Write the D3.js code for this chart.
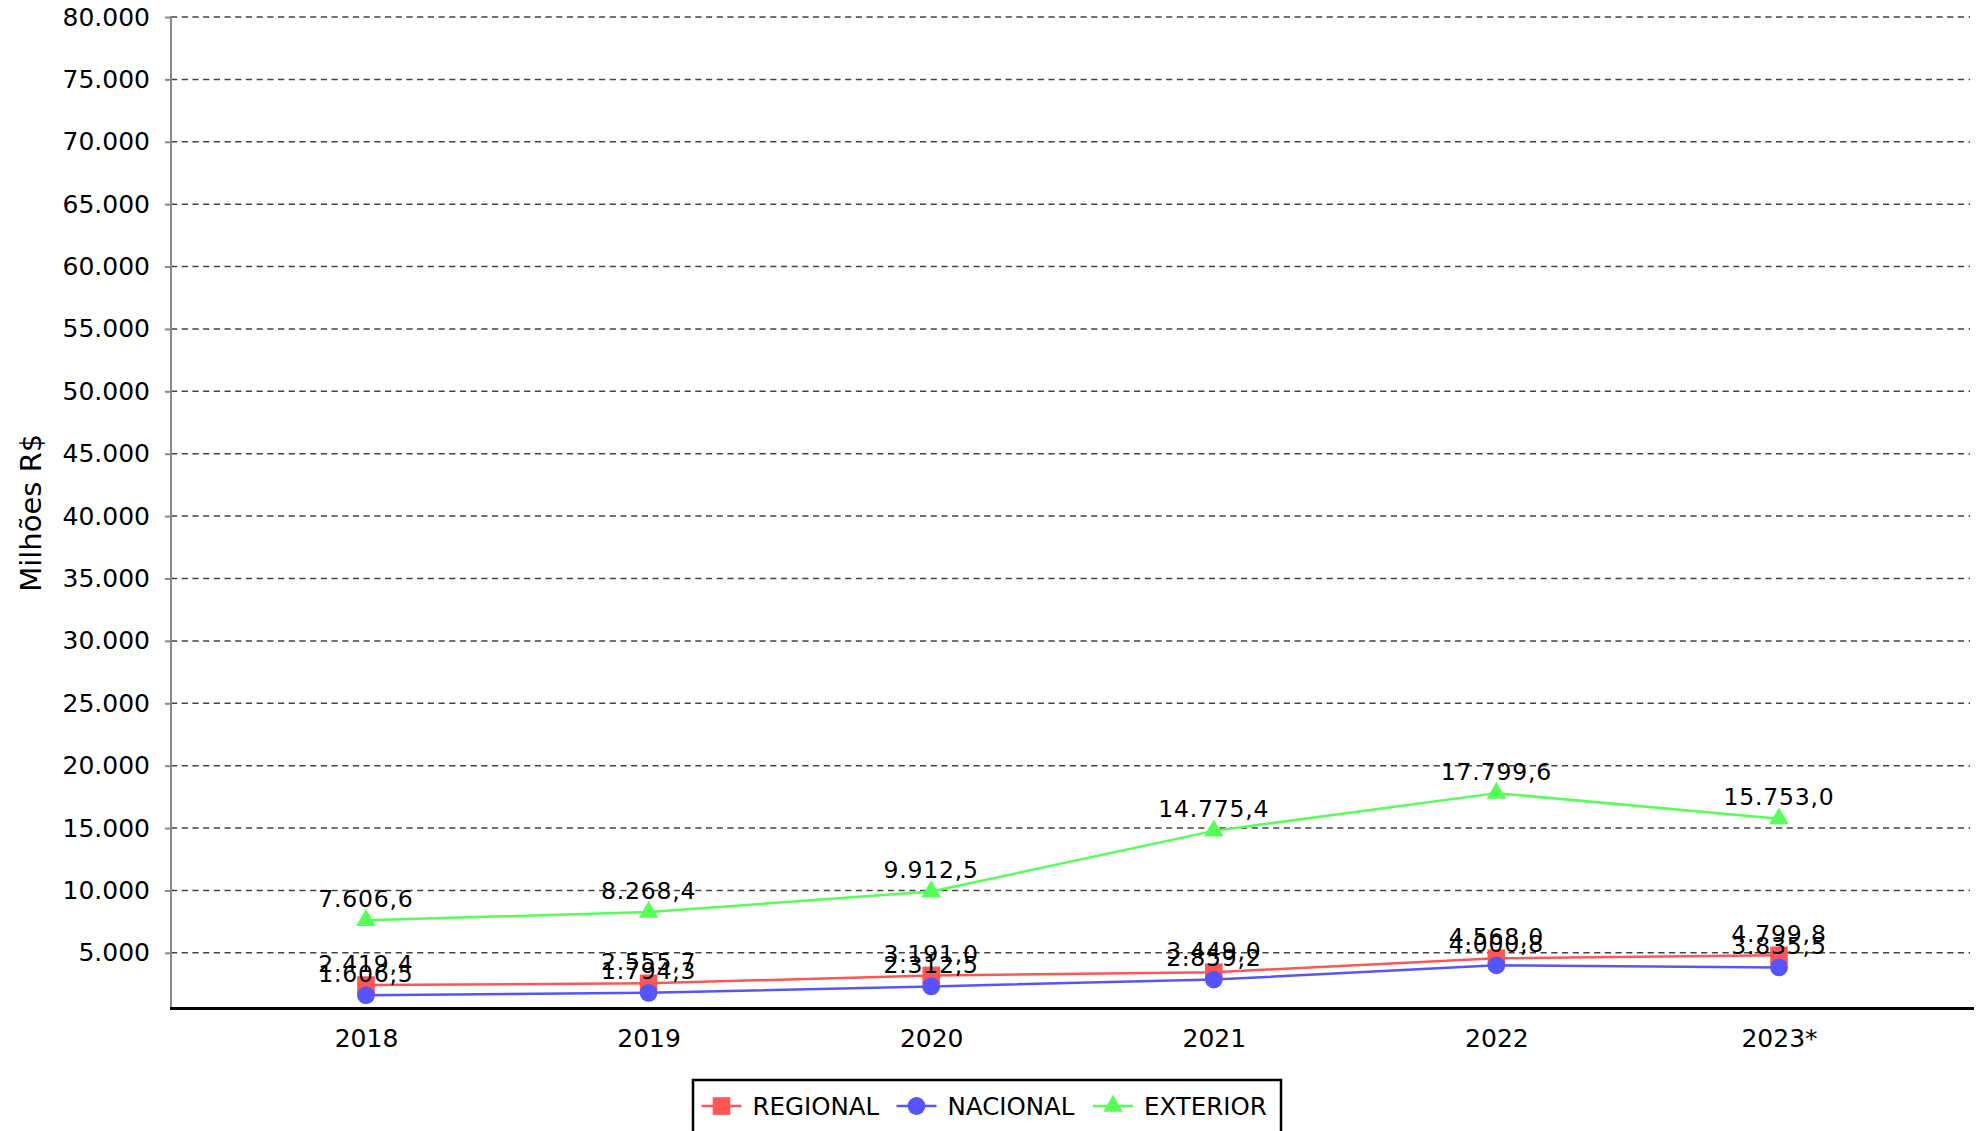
<!DOCTYPE html>
<html>
<head>
<meta charset="utf-8">
<script src="https://cdn.jsdelivr.net/npm/d3@7.9.0/dist/d3.min.js"></script>
<style>
  body { margin: 0; background: #fff; }
  svg { display: block; font-family: "DejaVu Sans", sans-serif; }
</style>
</head>
<body>
<svg id="chart"></svg>
<script>
// data
const years = ['2018', '2019', '2020', '2021', '2022', '2023*'];
const regional = [2419.4, 2555.7, 3191.0, 3449.0, 4568.0, 4799.8];
const nacional = [1606.5, 1794.3, 2312.5, 2859.2, 4000.8, 3835.5];
const exterior = [7606.6, 8268.4, 9912.5, 14775.4, 17799.6, 15753.0];
const yTicks = d3.range(5000, 80001, 5000);

const series = [
    { name: 'REGIONAL', values: regional, color: '#FF5555', shape: d3.symbolSquare, size: 310 },
    { name: 'NACIONAL', values: nacional, color: '#5555FF', shape: d3.symbolCircle, size: 250 },
    { name: 'EXTERIOR', values: exterior, color: '#55FF55', shape: d3.symbolTriangle, size: 165 }
];

const width = 1984;
const height = 1131;
const plot = { left: 171, right: 1974, top: 17, bottom: 1008.5 };

const ptBR = d3.formatLocale({ decimal: ',', thousands: '.', grouping: [3], currency: ['R$', ''] });
const fmtTick = ptBR.format(',.0f');
const fmtLabel = ptBR.format(',.1f');

const svg = d3.select('#chart')
    .attr('width', width)
    .attr('height', height)
    .attr('viewBox', [0, 0, width, height]);

const xScale = d3.scalePoint()
    .domain(years)
    .range([plot.left, plot.right])
    .padding(0.69);

const yScale = d3.scaleLinear()
    .domain([540, 80000])
    .range([plot.bottom, plot.top]);

// gridlines
svg.append('g')
    .selectAll('line')
    .data(yTicks)
    .join('line')
    .attr('x1', plot.left)
    .attr('x2', plot.right - 4)
    .attr('y1', d => yScale(d))
    .attr('y2', d => yScale(d))
    .attr('stroke', '#444')
    .attr('stroke-width', 1.5)
    .attr('stroke-dasharray', '6.2,4.5');

// y axis
const yAxis = svg.append('g')
    .attr('transform', `translate(${plot.left},0)`)
    .call(d3.axisLeft(yScale).tickValues(yTicks).tickFormat(fmtTick).tickSize(6).tickPadding(15));
yAxis.select('.domain').remove();
yAxis.selectAll('.tick line').attr('stroke', '#888').attr('stroke-width', 2);
yAxis.selectAll('.tick text')
    .attr('font-size', 25)
    .attr('font-family', '"DejaVu Sans", sans-serif')
    .attr('fill', '#000');
svg.append('line')
    .attr('x1', plot.left).attr('x2', plot.left)
    .attr('y1', yScale(80000) - 1).attr('y2', plot.bottom)
    .attr('stroke', '#888').attr('stroke-width', 2);

// x axis
const xAxis = svg.append('g')
    .attr('transform', `translate(0,${plot.bottom})`)
    .call(d3.axisBottom(xScale).tickSize(0).tickPadding(0));
xAxis.select('.domain').remove();
xAxis.selectAll('.tick text')
    .attr('y', 38)
    .attr('dy', null)
    .attr('font-size', 25)
    .attr('font-family', '"DejaVu Sans", sans-serif')
    .attr('fill', '#000');
svg.append('line')
    .attr('x1', plot.left - 1).attr('x2', plot.right)
    .attr('y1', plot.bottom).attr('y2', plot.bottom)
    .attr('stroke', '#000').attr('stroke-width', 3);

// y title
svg.append('text')
    .attr('transform', `translate(41,${(plot.top + plot.bottom) / 2}) rotate(-90)`)
    .attr('text-anchor', 'middle')
    .attr('font-size', 29)
    .text('Milhões R$');

// lines
const line = d3.line()
    .x((d, i) => xScale(years[i]))
    .y(d => yScale(d));

series.forEach(s => {
    svg.append('path')
        .datum(s.values)
        .attr('fill', 'none')
        .attr('stroke', s.color)
        .attr('stroke-width', 2.5)
        .attr('d', line);
});

// markers
series.forEach(s => {
    svg.append('g')
        .selectAll('path')
        .data(s.values)
        .join('path')
        .attr('transform', (d, i) => `translate(${xScale(years[i])},${yScale(d)})`)
        .attr('d', d3.symbol(s.shape, s.size))
        .attr('fill', s.color);
});

// value labels
series.forEach(s => {
    svg.append('g')
        .selectAll('text')
        .data(s.values)
        .join('text')
        .attr('x', (d, i) => xScale(years[i]))
        .attr('y', d => yScale(d) - 13.5)
        .attr('text-anchor', 'middle')
        .attr('font-size', 23.5)
        .attr('letter-spacing', 0.8)
        .attr('fill', '#000')
        .text(d => fmtLabel(d));
});

// legend
const legend = svg.append('g');
legend.append('rect')
    .attr('x', 693).attr('y', 1080)
    .attr('width', 588).attr('height', 54)
    .attr('fill', '#fff')
    .attr('stroke', '#000')
    .attr('stroke-width', 2.5);

const legendX = [721.5, 916.5, 1113];
series.forEach((s, i) => {
    const g = legend.append('g').attr('transform', `translate(${legendX[i]},1106)`);
    g.append('line')
        .attr('x1', -20).attr('x2', 20)
        .attr('stroke', s.color).attr('stroke-width', 2.5);
    g.append('path')
        .attr('d', d3.symbol(s.shape, s.size))
        .attr('fill', s.color);
    g.append('text')
        .attr('x', 31)
        .attr('y', 9)
        .attr('font-size', 24.5)
        .text(s.name);
});
</script>
</body>
</html>
